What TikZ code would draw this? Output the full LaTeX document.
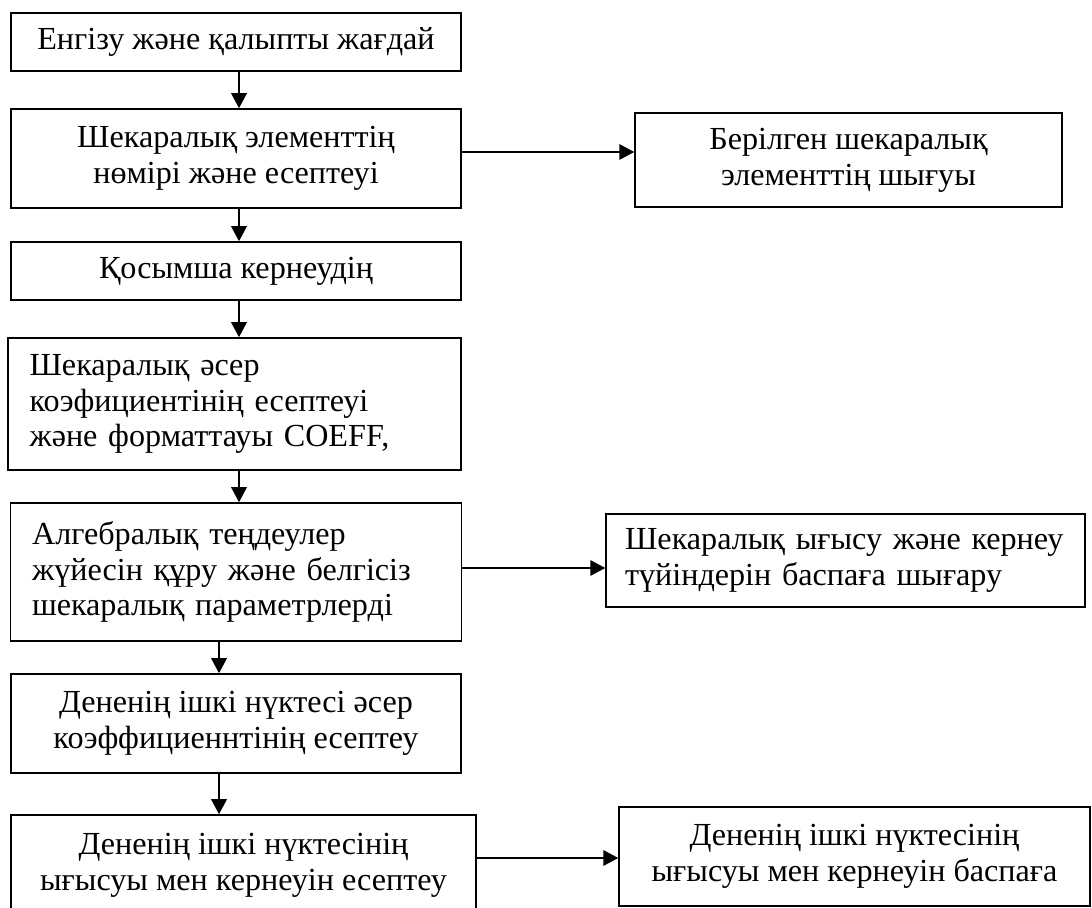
\documentclass[tikz,border=0pt]{standalone}
\usepackage{fontspec}
\setmainfont{Liberation Serif}
\usetikzlibrary{arrows.meta}

\begin{document}
\begin{tikzpicture}[x=0.02cm, y=-0.02cm,
	every node/.style={font=\fontsize{18.3}{20.4}\selectfont},
	block/.style={shape=rectangle, draw=black, line width=0.9pt, align=center, inner sep=0pt},
	leftblock/.style={block, align=left, inner xsep=0.43cm},
	arr/.style={-{Triangle[length=0.3cm,width=0.31cm]}, line width=1.1pt}]

	\useasboundingbox (0,0) rectangle (1092,908);
	\clip (0,0) rectangle (1092,908);

	\node[block, minimum width=9cm, minimum height=1.16cm] (enter) at (236, 42) {Енгізу және қалыпты жағдай};
	\node[block, minimum width=9cm, minimum height=1.98cm] (count) at (236, 158.5) {Шекаралық элементтің\\нөмірі және есептеуі};
	\node[block, minimum width=9cm, minimum height=1.16cm] (stress) at (236, 271) {Қосымша кернеудің};
	\node[leftblock, text width=8.2cm, minimum width=9.06cm, minimum height=2.64cm] (coeff) at (234.5, 404) {Шекаралық әсер\\коэфициентінің есептеуі\\және форматтауы COEFF,};
	\node[leftblock, text width=8.16cm, minimum width=9cm, minimum height=2.76cm] (system) at (236, 572) {Алгебралық теңдеулер\\жүйесін құру және белгісіз\\шекаралық параметрлерді};
	\node[block, minimum width=9cm, minimum height=1.98cm] (inner) at (236, 723.5) {Дененің ішкі нүктесі әсер\\коэффициеннтінің есептеу};
	\node[block, minimum width=9.3cm, minimum height=2cm] (disp) at (243.5, 865) {Дененің ішкі нүктесінің\\ығысуы мен кернеуін есептеу};

	\node[block, minimum width=8.54cm, minimum height=1.88cm] (out1) at (848.5, 160) {Берілген шекаралық\\элементтің шығуы};
	\node[leftblock, inner xsep=0.38cm, text width=8.82cm, minimum width=9.58cm, minimum height=1.86cm] (out2) at (845.5, 560.5) {\mbox{Шекаралық ығысу және кернеу}\\\mbox{түйіндерін баспаға шығару}};
	\node[block, minimum width=9.42cm, minimum height=1.98cm] (out3) at (854.5, 856.5) {Дененің ішкі нүктесінің\\ығысуы мен кернеуін баспаға};

	\coordinate (col1) at (239, 0);
	\coordinate (col2) at (219, 0);
	\coordinate (row1) at (0, 152);
	\coordinate (row2) at (0, 568);
	\coordinate (row3) at (0, 858);

	\draw[arr] (enter.south -| col1) -- (count.north -| col1);
	\draw[arr] (count.south -| col1) -- (stress.north -| col1);
	\draw[arr] (stress.south -| col1) -- (coeff.north -| col1);
	\draw[arr] (coeff.south -| col1) -- (system.north -| col1);
	\draw[arr] (system.south -| col2) -- (inner.north -| col2);
	\draw[arr] (inner.south -| col2) -- (disp.north -| col2);

	\draw[arr] (count.east |- row1) -- (out1.west |- row1);
	\draw[arr] (system.east |- row2) -- (out2.west |- row2);
	\draw[arr] (disp.east |- row3) -- (out3.west |- row3);

\end{tikzpicture}
\end{document}
